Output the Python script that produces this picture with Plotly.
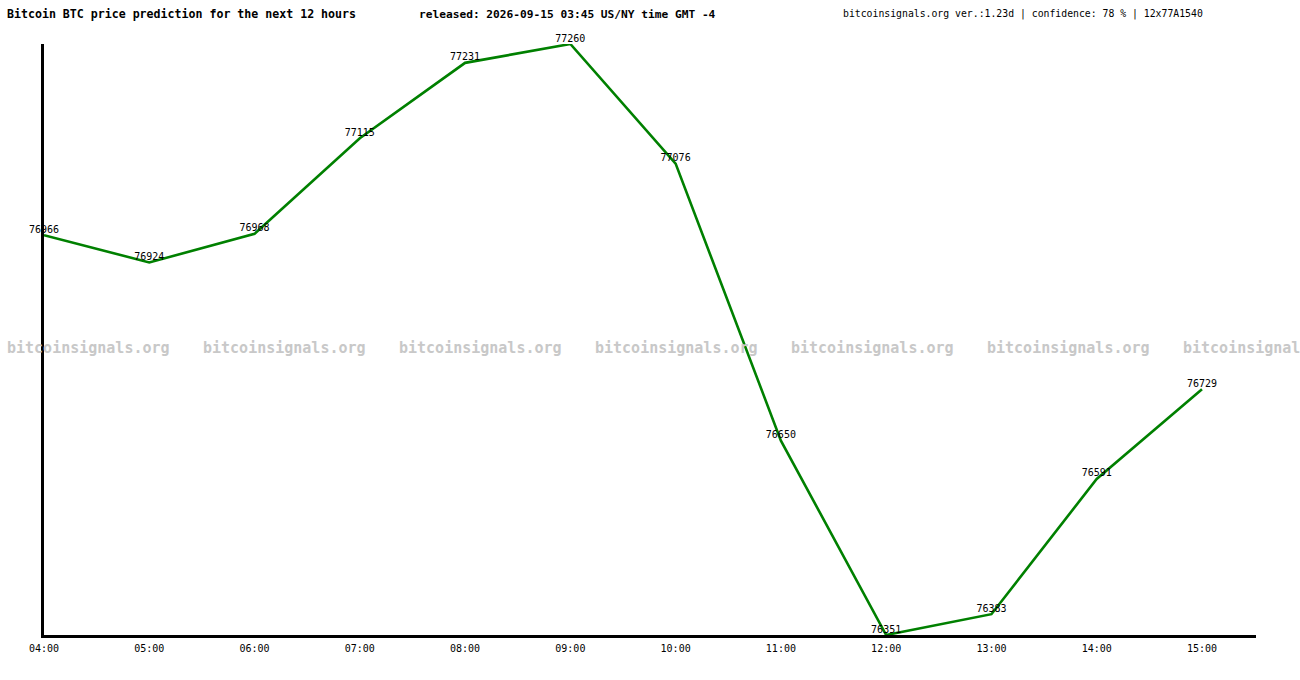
import plotly.graph_objects as go

# forecast hours and predicted BTC prices
hours = ["04:00", "05:00", "06:00", "07:00", "08:00", "09:00",
         "10:00", "11:00", "12:00", "13:00", "14:00", "15:00"]
prices = [76966, 76924, 76968, 77115, 77231, 77260,
          77076, 76650, 76351, 76383, 76591, 76729]

title_left = "Bitcoin BTC price prediction for the next 12 hours"
title_mid = "released: 2026-09-15 03:45 US/NY time GMT -4"
title_right = "bitcoinsignals.org ver.:1.23d | confidence: 78 % | 12x77A1540"
watermark = "bitcoinsignals.org"

MONO = "DejaVu Sans Mono"
W, H = 1300, 680
ML, MR, MT, MB = 44, 44, 44, 45

fig = go.Figure()
fig.add_trace(go.Scatter(
    x=list(range(len(hours))), y=prices,
    mode="lines+text",
    text=[str(p) for p in prices],
    textposition="top center",
    textfont=dict(family=MONO, size=10, color="#000000"),
    line=dict(color="#008000", width=2.6),
    cliponaxis=False,
    hoverinfo="skip",
))

# px -> paper helpers for the header and the watermark band
def px_x(px):
    return (px - ML) / (W - ML - MR)

def px_y(py):
    return 1 - (py - MT) / (H - MT - MB)

annotations = [
    dict(text="<b>" + title_left + "</b>", x=px_x(5), y=px_y(14),
         font=dict(family=MONO, size=11.6, color="#000")),
    dict(text="<b>" + title_mid + "</b>", x=px_x(417), y=px_y(14),
         font=dict(family=MONO, size=11.2, color="#000")),
    dict(text=title_right, x=px_x(841), y=px_y(14),
         font=dict(family=MONO, size=9.8, color="#000")),
]
# watermark row, the last copy runs off the right edge like the original
for wx in range(5, W, 196):
    annotations.append(dict(text="<b>" + watermark + "</b>", x=px_x(wx), y=px_y(348),
                            font=dict(family=MONO, size=15, color="#c8c8c8")))
for a in annotations:
    a.update(xref="paper", yref="paper", xanchor="left", yanchor="middle",
             showarrow=False)

fig.update_layout(
    width=W, height=H,
    margin=dict(l=ML, r=MR, t=MT, b=MB),
    paper_bgcolor="white", plot_bgcolor="white",
    showlegend=False,
    annotations=annotations,
    xaxis=dict(
        range=[0, (W - ML - MR) / 105.27],
        tickmode="array", tickvals=list(range(len(hours))), ticktext=hours,
        tickfont=dict(family=MONO, size=10, color="#000"),
        ticklabelstandoff=2,
        showgrid=False, zeroline=False, ticks="",
        showline=True, linecolor="#000", linewidth=3,
    ),
    yaxis=dict(
        range=[min(prices), max(prices)],
        showticklabels=False, showgrid=False, zeroline=False, ticks="",
        showline=True, linecolor="#000", linewidth=3,
    ),
)

fig.write_html("out.html", config={"displayModeBar": False},
               post_script="document.body.style.margin='0';")
